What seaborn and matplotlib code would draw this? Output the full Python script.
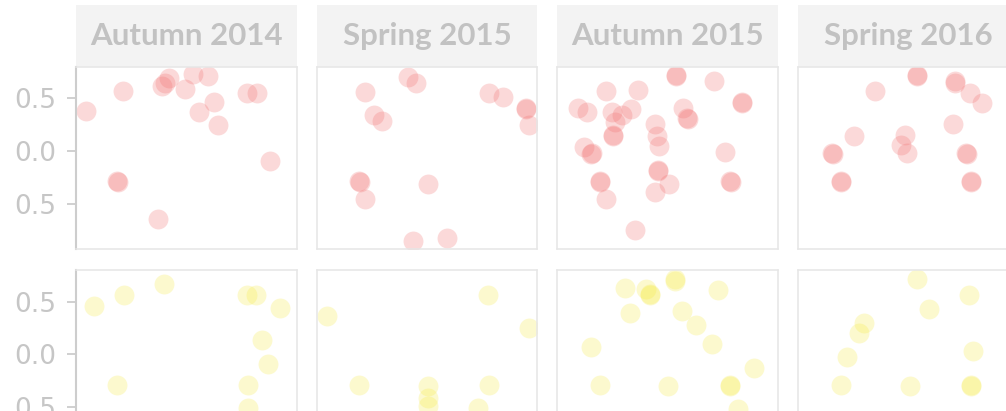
import pandas as pd
import matplotlib
matplotlib.use("Agg")
import matplotlib.pyplot as plt
from matplotlib.patches import Rectangle
import seaborn as sns

seasons = ["Autumn 2014", "Spring 2015", "Autumn 2015", "Spring 2016"]
groups = ["red", "yellow"]
group_colors = {"red": "#f26b6b", "yellow": "#f5ea3c"}

# y axis ticks and their printed labels
ytick_values = [-0.5, 0.0, 0.5]
ytick_labels = ["0.5", "0.0", "0.5"]

# ---- red group, one pair of lists per season ----
red_a14_x = [4.5, 21.5, 39.1, 40.4, 41.9, 49.4, 53.2, 60.0, 55.5, 62.3, 64.5, 77.4, 82.0, 88.0, 18.7, 18.9, 37.3]
red_a14_y = [0.38, 0.57, 0.62, 0.65, 0.69, 0.59, 0.73, 0.71, 0.37, 0.47, 0.25, 0.55, 0.55, -0.09, -0.28, -0.29, -0.64]

red_s15_x = [22.0, 41.5, 45.0, 25.9, 29.6, 78.0, 84.4, 94.9, 94.7, 96.0, 19.3, 19.5, 21.9, 50.3, 43.5, 59.0]
red_s15_y = [0.56, 0.70, 0.65, 0.34, 0.29, 0.55, 0.51, 0.40, 0.41, 0.25, -0.28, -0.29, -0.45, -0.31, -0.85, -0.82]

red_a15_x = [53.7, 53.9, 71.0, 83.6, 83.8, 21.9, 36.6, 9.2, 13.7, 24.9, 29.5, 33.2, 26.4, 25.2, 25.4,
             57.1, 59.0, 59.2, 44.1, 45.0, 46.1, 12.1, 15.4, 15.6, 75.9, 45.6, 45.8, 50.6, 44.1, 19.2,
             19.4, 21.9, 78.3, 78.5, 35.1]
red_a15_y = [0.71, 0.72, 0.66, 0.47, 0.46, 0.57, 0.58, 0.41, 0.37, 0.37, 0.34, 0.40, 0.28, 0.15, 0.14,
             0.41, 0.31, 0.30, 0.26, 0.14, 0.05, 0.04, -0.03, -0.02, -0.01, -0.19, -0.18, -0.31, -0.39, -0.28,
             -0.29, -0.45, -0.28, -0.29, -0.75]

red_s16_x = [53.8, 54.0, 71.2, 71.4, 78.0, 83.6, 34.8, 25.4, 48.4, 46.6, 49.3, 70.5, 15.6, 15.8, 76.4,
             76.6, 19.4, 19.6, 78.3, 78.5]
red_s16_y = [0.71, 0.72, 0.66, 0.65, 0.55, 0.46, 0.57, 0.14, 0.15, 0.06, -0.02, 0.26, -0.02, -0.03, -0.02,
             -0.03, -0.28, -0.29, -0.28, -0.29]

# ---- yellow group ----
yel_a14_x = [8.2, 21.8, 40.0, 77.4, 81.6, 92.2, 84.2, 86.9, 18.7, 77.7, 77.7]
yel_a14_y = [0.46, 0.56, 0.67, 0.56, 0.56, 0.44, 0.14, -0.09, -0.29, -0.29, -0.51]

yel_s15_x = [4.7, 77.8, 96.0, 19.3, 50.3, 50.3, 50.3, 78.3, 73.0]
yel_s15_y = [0.36, 0.56, 0.25, -0.29, -0.30, -0.41, -0.49, -0.29, -0.51]

yel_a15_x = [30.5, 40.0, 42.0, 42.2, 53.3, 53.5, 73.0, 32.8, 56.4, 62.7, 70.0, 15.4, 89.2, 19.3, 50.2, 78.1, 78.3, 82.1]
yel_a15_y = [0.63, 0.62, 0.56, 0.57, 0.71, 0.70, 0.61, 0.39, 0.41, 0.28, 0.10, 0.07, -0.13, -0.29, -0.30, -0.29, -0.30, -0.52]

yel_s16_x = [53.8, 77.6, 59.4, 29.9, 27.7, 22.4, 79.5, 19.4, 50.8, 78.3, 78.5]
yel_s16_y = [0.71, 0.56, 0.43, 0.30, 0.20, -0.02, 0.03, -0.29, -0.30, -0.29, -0.30]

series = [
    ("red", "Autumn 2014", red_a14_x, red_a14_y),
    ("red", "Spring 2015", red_s15_x, red_s15_y),
    ("red", "Autumn 2015", red_a15_x, red_a15_y),
    ("red", "Spring 2016", red_s16_x, red_s16_y),
    ("yellow", "Autumn 2014", yel_a14_x, yel_a14_y),
    ("yellow", "Spring 2015", yel_s15_x, yel_s15_y),
    ("yellow", "Autumn 2015", yel_a15_x, yel_a15_y),
    ("yellow", "Spring 2016", yel_s16_x, yel_s16_y),
]
frames = [pd.DataFrame({"group": grp, "season": sea, "x": xs, "y": ys})
          for grp, sea, xs, ys in series]
df = pd.concat(frames, ignore_index=True)

sns.set_theme(style="white")
plt.rcParams["font.family"] = ["DejaVu Sans"]

g = sns.FacetGrid(df, row="group", col="season", hue="group",
                  row_order=groups, col_order=seasons, hue_order=groups,
                  palette=group_colors, sharex=True, sharey=True, despine=False)
g.map_dataframe(sns.scatterplot, x="x", y="y", s=205, alpha=0.25, linewidth=0)
g.set_titles("")
g.set_axis_labels("", "")

fig = g.figure
fig.set_size_inches(10.06, 4.11)
fig.set_dpi(100)
fig.patch.set_facecolor("white")

W, H = 1006.0, 411.0
col_left = [76.0, 316.6, 557.2, 797.8]
panel_w, panel_h = 220.8, 182.6
row_top = [66.7, 270.0]
strip_h = 61.7

for r in range(2):
    for c in range(4):
        ax = g.axes[r, c]
        bottom = H - row_top[r] - panel_h
        ax.set_position([col_left[c] / W, bottom / H, panel_w / W, panel_h / H])
        ax.set_facecolor("white")
        ax.set_xlim(0, 100)
        ax.set_ylim(-0.93, 0.80)
        ax.set_xticks([])
        for side, sp in ax.spines.items():
            sp.set_color("#e6e6e6")
            sp.set_linewidth(1.1)
        if c == 0:
            ax.spines["left"].set_color("#cdcdcd")
            ax.spines["left"].set_linewidth(1.5)
            ax.set_yticks(ytick_values)
            ax.set_yticklabels(ytick_labels)
            ax.tick_params(axis="y", left=True, length=6.5, width=1.3, color="#cdcdcd",
                           pad=7.5, labelsize=19, labelcolor="#c6c6c6")
        else:
            ax.tick_params(axis="y", left=False, labelleft=False)
        ax.grid(False)

# column strips above the top row
for c, season in enumerate(seasons):
    ax = g.axes[0, c]
    ax.add_patch(Rectangle((0, 1), 1, strip_h / panel_h, transform=ax.transAxes,
                           facecolor="#f3f3f3", edgecolor="none", clip_on=False, zorder=0))
    ax.text(0.5, 1 + strip_h / panel_h / 2, season, transform=ax.transAxes,
            ha="center", va="center", fontsize=22.5, fontweight="bold",
            family=["Lato", "DejaVu Sans"], color="#c2c2c2")

fig.savefig("out.png", dpi=100)
